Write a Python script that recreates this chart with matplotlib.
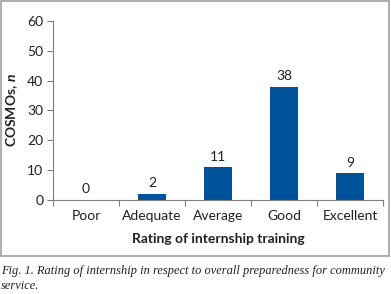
import matplotlib.pyplot as plt
from matplotlib.patches import Rectangle

# chart values
ratings = ['Poor', 'Adequate', 'Average', 'Good', 'Excellent']
counts = [0, 2, 11, 38, 9]
yticks = [0, 10, 20, 30, 40, 50, 60]

plt.rcParams['font.family'] = 'Lato'
plt.rcParams['mathtext.fontset'] = 'custom'
plt.rcParams['mathtext.it'] = 'Lato:italic:bold'

fig = plt.figure(figsize=(3.91, 2.94), dpi=100)
ax = fig.add_axes([0.1355, 0.32, 0.845, 0.6086])

x = range(len(ratings))
ax.bar(x, counts, width=0.42, color='#00529b')
for i, v in zip(x, counts):
    ax.text(i, v + 1.5, str(v), ha='center', va='bottom', fontsize=10, color='#231f20')

ax.set_xlim(-0.5, len(ratings) - 0.5)
ax.set_ylim(0, 60)
ax.set_yticks(yticks)
ax.set_xticks([i + 0.5 for i in range(-1, len(ratings))], minor=False)
ax.set_xticklabels([])
ax.set_xticks(list(x), minor=True)
ax.set_xticklabels(ratings, minor=True)
ax.tick_params(axis='x', which='minor', length=0, pad=7, labelsize=10, labelcolor='#231f20')
ax.tick_params(axis='x', which='major', length=4, color='#7f7f7f')
ax.tick_params(axis='y', length=4, color='#7f7f7f', labelsize=10, labelcolor='#231f20', pad=3)

for s in ['top', 'right']:
    ax.spines[s].set_visible(False)
for s in ['left', 'bottom']:
    ax.spines[s].set_color('#7f7f7f')
    ax.spines[s].set_linewidth(0.8)

ax.set_xlabel('Rating of internship training', fontsize=10, fontweight='bold', color='#231f20', labelpad=8)
ax.set_ylabel(r'COSMOs, $n$', fontsize=10, fontweight='bold', color='#231f20', labelpad=5)

# grey frame round the chart
fig.patches.append(Rectangle((0.003, 0.128), 0.992, 0.867, transform=fig.transFigure,
                             fill=False, edgecolor='#a0a0a0', linewidth=1.2))

fig.text(0.003, 0.078, 'Fig. 1. Rating of internship in respect to overall preparedness for community',
         fontsize=8.95, family='Liberation Serif', style='italic', color='#231f20', va='center')
fig.text(0.003, 0.027, 'service.', fontsize=8.95, family='Liberation Serif', style='italic',
         color='#231f20', va='center')

fig.savefig('out.png', dpi=100)
